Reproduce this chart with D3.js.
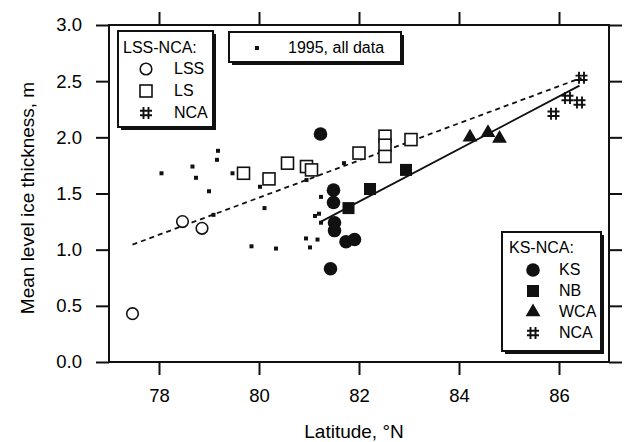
<!DOCTYPE html>
<html>
<head>
<meta charset="utf-8">
<script src="https://cdn.jsdelivr.net/npm/d3@7"></script>
<style>
  body { margin: 0; background: #fff; }
  text { font-family: "Liberation Sans", Arial, Helvetica, sans-serif; fill: #000; }
</style>
</head>
<body>
<script>
// [latitude °N, mean level ice thickness m]
const allData1995 = [[78.05,1.68],[78.67,1.74],[78.74,1.64],[79.18,1.88],[79.16,1.80],[79.0,1.52],
  [79.47,1.68],[80.02,1.56],[80.95,1.62],[81.7,1.77],[81.24,1.47],[79.09,1.31],[80.11,1.37],
  [79.85,1.03],[80.34,1.01],[80.94,1.10],[81.02,1.02],[81.17,1.09],[81.12,1.30],[81.2,1.32],[81.24,1.24]];
const lss = [[78.47,1.25],[78.86,1.19],[77.47,0.43]];
const ls = [[79.69,1.68],[80.2,1.63],[80.57,1.77],[80.95,1.74],[81.05,1.71],[82.0,1.86],
  [82.52,2.01],[82.52,1.93],[82.52,1.83],[83.04,1.98]];
const nca = [[86.45,2.53],[86.17,2.35],[86.41,2.31],[85.89,2.21]];
const wca = [[84.22,2.0],[84.58,2.04],[84.81,1.99]];
const nb = [[81.79,1.37],[82.22,1.54],[82.94,1.71]];
const ks = [[81.23,2.03],[81.49,1.53],[81.49,1.42],[81.51,1.24],[81.51,1.17],[81.74,1.07],[81.91,1.09],[81.43,0.83]];
const fitLssNca = [[77.47,1.045],[86.45,2.53]];
const fitKsNca = [[81.24,1.25],[86.41,2.46]];
const xTicks = [78, 80, 82, 84, 86];
const yTicks = [0, 0.5, 1, 1.5, 2, 2.5, 3];

const width = 628, height = 442;
const margin = { top: 25, right: 19, bottom: 80, left: 109 };

const x = d3.scaleLinear().domain([77, 87]).range([margin.left, width - margin.right]);
const y = d3.scaleLinear().domain([0, 3]).range([height - margin.bottom, margin.top]);

const svg = d3.select("body").append("svg")
  .attr("width", width).attr("height", height);

// frame + ticks on all four sides, pointing out
const tl = 13;
const axStyle = g => {
  g.select(".domain").remove();
  g.selectAll(".tick line").attr("stroke", "#111").attr("stroke-width", 2);
};
svg.append("g").attr("transform", `translate(0,${y(0)})`)
  .call(d3.axisBottom(x).tickValues(xTicks).tickSize(tl).tickPadding(10).tickFormat(d3.format("d")))
  .call(axStyle)
  .selectAll("text").style("font-size", "18.5px").attr("dy", "0.9em");
svg.append("g").attr("transform", `translate(0,${y(3)})`)
  .call(d3.axisTop(x).tickValues(xTicks).tickSize(tl).tickFormat(""))
  .call(axStyle);
svg.append("g").attr("transform", `translate(${x(77)},0)`)
  .call(d3.axisLeft(y).tickValues(yTicks).tickSize(tl).tickPadding(14).tickFormat(d3.format(".1f")))
  .call(axStyle)
  .selectAll("text").style("font-size", "18.5px");
svg.append("g").attr("transform", `translate(${x(87)},0)`)
  .call(d3.axisRight(y).tickValues(yTicks).tickSize(tl).tickFormat(""))
  .call(axStyle);

svg.append("rect")
  .attr("x", x(77)).attr("y", y(3))
  .attr("width", x(87) - x(77)).attr("height", y(0) - y(3))
  .attr("fill", "none").attr("stroke", "#111").attr("stroke-width", 2);

// axis titles
svg.append("text")
  .attr("x", 354).attr("y", 438)
  .attr("text-anchor", "middle").style("font-size", "19px")
  .text("Latitude, °N");
svg.append("text")
  .attr("transform", `translate(34,198) rotate(-90)`)
  .attr("text-anchor", "middle").style("font-size", "19px")
  .text("Mean level ice thickness, m");

// regression lines
const line = d3.line().x(d => x(d[0])).y(d => y(d[1]));
svg.append("path").datum(fitLssNca).attr("d", line)
  .attr("fill", "none").attr("stroke", "#111").attr("stroke-width", 1.8)
  .attr("stroke-dasharray", "5,4");
svg.append("path").datum(fitKsNca).attr("d", line)
  .attr("fill", "none").attr("stroke", "#111").attr("stroke-width", 1.8);

// marker drawing helpers
const sym = {
  dot: (g) => g.append("rect").attr("x", -2).attr("y", -2).attr("width", 4).attr("height", 4).attr("fill", "#111"),
  ocircle: (g) => g.append("circle").attr("r", 5.8).attr("fill", "#fff").attr("stroke", "#111").attr("stroke-width", 1.6),
  osquare: (g) => g.append("rect").attr("x", -6).attr("y", -6).attr("width", 12).attr("height", 12)
    .attr("fill", "#fff").attr("stroke", "#111").attr("stroke-width", 1.6),
  hash: (g) => g.append("path")
    .attr("d", "M-2.5,-6V6M2.5,-6V6M-6,-2.2H6M-6,2.2H6")
    .attr("stroke", "#111").attr("stroke-width", 1.9).attr("fill", "none"),
  fcircle: (g) => g.append("circle").attr("r", 6.8).attr("fill", "#111"),
  fsquare: (g) => g.append("rect").attr("x", -6).attr("y", -6).attr("width", 12).attr("height", 12).attr("fill", "#111"),
  triangle: (g) => g.append("path").attr("d", d3.symbol(d3.symbolTriangle, 95)()).attr("fill", "#111")
};

const drawSeries = (data, kind) => {
  svg.append("g").selectAll("g").data(data).join("g")
    .attr("transform", d => `translate(${x(d[0])},${y(d[1])})`)
    .each(function() { sym[kind](d3.select(this)); });
};
drawSeries(allData1995, "dot");
drawSeries(lss, "ocircle");
drawSeries(ls, "osquare");
drawSeries(nca, "hash");
drawSeries(wca, "triangle");
drawSeries(nb, "fsquare");
drawSeries(ks, "fcircle");

// legend boxes with drop shadow
const box = (bx, by, bw, bh) => {
  const g = svg.append("g").attr("transform", `translate(${bx},${by})`);
  g.append("rect").attr("x", 3).attr("y", 3).attr("width", bw).attr("height", bh).attr("fill", "#111");
  g.append("rect").attr("width", bw).attr("height", bh).attr("fill", "#fff")
    .attr("stroke", "#111").attr("stroke-width", 2);
  return g;
};

const lg1 = box(118, 31, 95, 96);
lg1.append("text").attr("x", 5).attr("y", 22).style("font-size", "16px").text("LSS-NCA:");
[["ocircle", "LSS"], ["osquare", "LS"], ["hash", "NCA"]].forEach(([k, t], i) => {
  const yy = 43 + i * 22;
  sym[k](lg1.append("g").attr("transform", `translate(28,${yy - 5})`));
  lg1.append("text").attr("x", 56).attr("y", yy).style("font-size", "16px").text(t);
});

const lg2 = box(229, 32, 172, 30);
sym.dot(lg2.append("g").attr("transform", "translate(28,16)"));
lg2.append("text").attr("x", 59).attr("y", 21).style("font-size", "16px").text("1995, all data");

const lg3 = box(502, 232, 99, 119);
lg3.append("text").attr("x", 7).attr("y", 21).style("font-size", "16px").text("KS-NCA:");
[["fcircle", "KS"], ["fsquare", "NB"], ["triangle", "WCA"], ["hash", "NCA"]].forEach(([k, t], i) => {
  const yy = 43 + i * 21;
  sym[k](lg3.append("g").attr("transform", `translate(31,${yy - 5})`));
  lg3.append("text").attr("x", 57).attr("y", yy).style("font-size", "16px").text(t);
});
</script>
</body>
</html>
